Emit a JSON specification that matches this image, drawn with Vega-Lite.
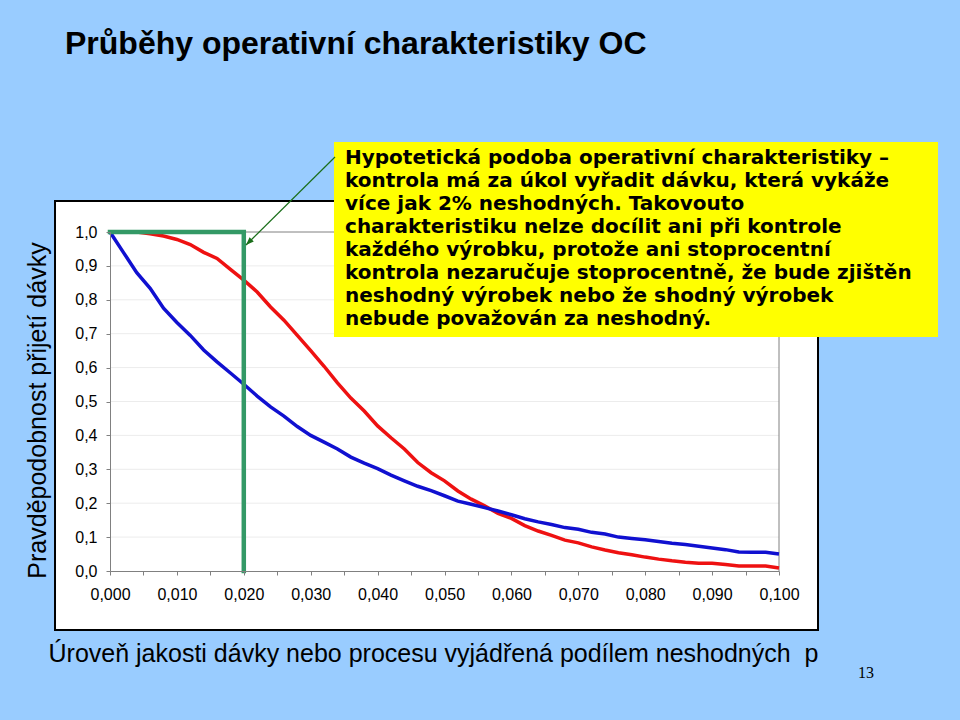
{
  "$schema": "https://vega.github.io/schema/vega-lite/v6.json",
  "width": 669,
  "height": 339,
  "autosize": {"type": "none"},
  "padding": {"left": 110, "top": 232, "right": 181, "bottom": 149},
  "background": "#99CCFF",
  "title": {"text": "Průběhy operativní charakteristiky OC", "anchor": "start", "frame": "group", "font": "Liberation Sans", "fontSize": 32, "fontWeight": "bold", "color": "#000000", "dx": -45, "offset": 0, "baseline": "alphabetic", "dy": -56},
  "config": {
    "view": {"stroke": null},
    "axis": {"zindex": 2},
    "axisX": {
      "values": [0, 0.002, 0.004, 0.006, 0.008, 0.01, 0.012, 0.014, 0.016, 0.018, 0.02, 0.022, 0.024, 0.026, 0.028, 0.03, 0.032, 0.034, 0.036, 0.038, 0.04, 0.042, 0.044, 0.046, 0.048, 0.05, 0.052, 0.054, 0.056, 0.058, 0.06, 0.062, 0.064, 0.066, 0.068, 0.07, 0.072, 0.074, 0.076, 0.078, 0.08, 0.082, 0.084, 0.086, 0.088, 0.09, 0.092, 0.094, 0.096, 0.098, 0.1],
      "labelExpr": "abs(datum.value*100 - round(datum.value*100)) < 0.001 ? replace(format(datum.value, '.3f'), '.', ',') : ''",
      "labelOverlap": false, "labelFlush": false, "grid": false,
      "domainColor": "#808080", "tickColor": "#808080", "tickSize": 4, "labelPadding": 11,
      "labelFont": "Liberation Sans", "labelFontSize": 16, "labelColor": "#000000",
      "titleFont": "Liberation Sans", "titleFontSize": 25, "titleFontWeight": "normal", "titleColor": "#000000",
      "titleX": -62, "titleY": 90, "titleAlign": "left", "titleAnchor": "start", "titleBaseline": "alphabetic"
    },
    "axisY": {
      "values": [0, 0.1, 0.2, 0.3, 0.4, 0.5, 0.6, 0.7, 0.8, 0.9, 1.0],
      "labelExpr": "replace(format(datum.value, '.1f'), '.', ',')",
      "labelOverlap": false, "labelFlush": false, "grid": false,
      "domainColor": "#808080", "tickColor": "#808080", "tickSize": 4, "labelPadding": 9,
      "labelFont": "Liberation Sans", "labelFontSize": 16, "labelColor": "#000000",
      "titleFont": "Liberation Sans", "titleFontSize": 25, "titleFontWeight": "normal", "titleColor": "#000000",
      "titleX": -73, "titleY": 178, "titleAngle": 270, "titleAlign": "center", "titleBaseline": "middle"
    }
  },
  "datasets": {
    "oc": [
      {"p": 0.000, "blue": 1.000, "red": 1.000},
      {"p": 0.002, "blue": 0.940, "red": 1.000},
      {"p": 0.004, "blue": 0.880, "red": 1.000},
      {"p": 0.006, "blue": 0.834, "red": 0.995},
      {"p": 0.008, "blue": 0.775, "red": 0.988},
      {"p": 0.010, "blue": 0.733, "red": 0.978},
      {"p": 0.012, "blue": 0.695, "red": 0.963},
      {"p": 0.014, "blue": 0.652, "red": 0.940},
      {"p": 0.016, "blue": 0.617, "red": 0.922},
      {"p": 0.018, "blue": 0.584, "red": 0.890},
      {"p": 0.020, "blue": 0.551, "red": 0.858},
      {"p": 0.022, "blue": 0.516, "red": 0.823},
      {"p": 0.024, "blue": 0.484, "red": 0.779},
      {"p": 0.026, "blue": 0.457, "red": 0.740},
      {"p": 0.028, "blue": 0.426, "red": 0.695},
      {"p": 0.030, "blue": 0.400, "red": 0.650},
      {"p": 0.032, "blue": 0.380, "red": 0.604},
      {"p": 0.034, "blue": 0.360, "red": 0.555},
      {"p": 0.036, "blue": 0.336, "red": 0.510},
      {"p": 0.038, "blue": 0.318, "red": 0.472},
      {"p": 0.040, "blue": 0.302, "red": 0.428},
      {"p": 0.042, "blue": 0.283, "red": 0.393},
      {"p": 0.044, "blue": 0.266, "red": 0.360},
      {"p": 0.046, "blue": 0.250, "red": 0.320},
      {"p": 0.048, "blue": 0.237, "red": 0.290},
      {"p": 0.050, "blue": 0.222, "red": 0.266},
      {"p": 0.052, "blue": 0.206, "red": 0.236},
      {"p": 0.054, "blue": 0.197, "red": 0.212},
      {"p": 0.056, "blue": 0.187, "red": 0.192},
      {"p": 0.058, "blue": 0.177, "red": 0.170},
      {"p": 0.060, "blue": 0.166, "red": 0.155},
      {"p": 0.062, "blue": 0.154, "red": 0.134},
      {"p": 0.064, "blue": 0.145, "red": 0.118},
      {"p": 0.066, "blue": 0.137, "red": 0.105},
      {"p": 0.068, "blue": 0.128, "red": 0.091},
      {"p": 0.070, "blue": 0.123, "red": 0.083},
      {"p": 0.072, "blue": 0.114, "red": 0.071},
      {"p": 0.074, "blue": 0.109, "red": 0.062},
      {"p": 0.076, "blue": 0.100, "red": 0.054},
      {"p": 0.078, "blue": 0.096, "red": 0.048},
      {"p": 0.080, "blue": 0.092, "red": 0.041},
      {"p": 0.082, "blue": 0.087, "red": 0.035},
      {"p": 0.084, "blue": 0.082, "red": 0.030},
      {"p": 0.086, "blue": 0.078, "red": 0.026},
      {"p": 0.088, "blue": 0.073, "red": 0.023},
      {"p": 0.090, "blue": 0.068, "red": 0.023},
      {"p": 0.092, "blue": 0.063, "red": 0.019},
      {"p": 0.094, "blue": 0.056, "red": 0.015},
      {"p": 0.096, "blue": 0.055, "red": 0.015},
      {"p": 0.098, "blue": 0.055, "red": 0.015},
      {"p": 0.100, "blue": 0.050, "red": 0.009}
    ],
    "ideal": [
      {"i": 1, "p": 0.000, "v": 1},
      {"i": 2, "p": 0.020, "v": 1},
      {"i": 3, "p": 0.020, "v": 0}
    ],
    "grid": [
      {"g": 0.1}, {"g": 0.2}, {"g": 0.3}, {"g": 0.4}, {"g": 0.5},
      {"g": 0.6}, {"g": 0.7}, {"g": 0.8}, {"g": 0.9}
    ]
  },
  "layer": [
    {
      "data": {"values": [{}]},
      "mark": {"type": "rect", "fill": "#FFFFFF", "stroke": "#000000", "strokeWidth": 2},
      "encoding": {
        "x": {"datum": -0.00822, "type": "quantitative", "scale": {"domain": [0, 0.1], "nice": false, "zero": false},
          "axis": {"title": "Úroveň jakosti dávky nebo procesu vyjádřená podílem neshodných \u00a0p", "zindex": 2}},
        "x2": {"datum": 0.10583},
        "y": {"datum": 1.0914, "type": "quantitative", "scale": {"domain": [0, 1], "nice": false, "zero": false},
          "axis": {"title": "Pravděpodobnost přijetí dávky", "zindex": 2}},
        "y2": {"datum": -0.174}
      }
    },
    {
      "data": {"name": "grid"},
      "mark": {"type": "rule", "color": "#ececec", "strokeWidth": 1},
      "encoding": {
        "y": {"field": "g", "type": "quantitative", "scale": {"domain": [0, 1], "nice": false, "zero": false}},
        "x": {"datum": 0, "type": "quantitative", "scale": {"domain": [0, 0.1], "nice": false, "zero": false}},
        "x2": {"datum": 0.1}
      }
    },
    {
      "data": {"values": [{}]},
      "mark": {"type": "rule", "color": "#808080", "strokeWidth": 1},
      "encoding": {
        "x": {"datum": 0.1, "type": "quantitative", "scale": {"domain": [0, 0.1], "nice": false, "zero": false}},
        "y": {"datum": 0, "type": "quantitative", "scale": {"domain": [0, 1], "nice": false, "zero": false}},
        "y2": {"datum": 1}
      }
    },
    {
      "data": {"values": [{}]},
      "mark": {"type": "rule", "color": "#808080", "strokeWidth": 1},
      "encoding": {
        "x": {"datum": 0, "type": "quantitative", "scale": {"domain": [0, 0.1], "nice": false, "zero": false}},
        "x2": {"datum": 0.1},
        "y": {"datum": 1, "type": "quantitative", "scale": {"domain": [0, 1], "nice": false, "zero": false}}
      }
    },
    {
      "data": {"name": "oc"},
      "mark": {"type": "line", "color": "#EE1111", "strokeWidth": 3.5},
      "encoding": {
        "x": {"field": "p", "type": "quantitative", "scale": {"domain": [0, 0.1], "nice": false, "zero": false}},
        "y": {"field": "red", "type": "quantitative", "scale": {"domain": [0, 1], "nice": false, "zero": false}}
      }
    },
    {
      "data": {"name": "oc"},
      "mark": {"type": "line", "color": "#1010D0", "strokeWidth": 3.5},
      "encoding": {
        "x": {"field": "p", "type": "quantitative", "scale": {"domain": [0, 0.1], "nice": false, "zero": false}},
        "y": {"field": "blue", "type": "quantitative", "scale": {"domain": [0, 1], "nice": false, "zero": false}}
      }
    },
    {
      "data": {"name": "ideal"},
      "mark": {"type": "line", "color": "#339966", "strokeWidth": 4.5, "strokeCap": "square"},
      "encoding": {
        "x": {"field": "p", "type": "quantitative", "scale": {"domain": [0, 0.1], "nice": false, "zero": false}},
        "y": {"field": "v", "type": "quantitative", "scale": {"domain": [0, 1], "nice": false, "zero": false}},
        "order": {"field": "i", "type": "quantitative"}
      }
    },
    {
      "data": {"values": [{}]},
      "mark": {"type": "rect", "fill": "#FFFF00"},
      "encoding": {
        "x": {"datum": 0.03348, "type": "quantitative", "scale": {"domain": [0, 0.1], "nice": false, "zero": false}},
        "x2": {"datum": 0.12377},
        "y": {"datum": 1.2655, "type": "quantitative", "scale": {"domain": [0, 1], "nice": false, "zero": false}},
        "y2": {"datum": 0.6903}
      }
    },
    {
      "data": {"values": [{}]},
      "mark": {"type": "text", "text": [
        "Hypotetická podoba operativní charakteristiky –",
        "kontrola má za úkol vyřadit dávku, která vykáže",
        "více jak 2% neshodných. Takovouto",
        "charakteristiku nelze docílit ani při kontrole",
        "každého výrobku, protože ani stoprocentní",
        "kontrola nezaručuje stoprocentně, že bude zjištěn",
        "neshodný výrobek nebo že shodný výrobek",
        "nebude považován za neshodný."
      ], "lineHeight": 23, "align": "left", "baseline": "alphabetic", "font": "DejaVu Sans", "fontSize": 20, "fontWeight": "bold", "color": "#000000"},
      "encoding": {
        "x": {"datum": 0.03513, "type": "quantitative", "scale": {"domain": [0, 0.1], "nice": false, "zero": false}},
        "y": {"datum": 1.2006, "type": "quantitative", "scale": {"domain": [0, 1], "nice": false, "zero": false}}
      }
    },
    {
      "data": {"values": [{}]},
      "mark": {"type": "rule", "color": "#1A6E1A", "strokeWidth": 1.2},
      "encoding": {
        "x": {"datum": 0.03363, "type": "quantitative", "scale": {"domain": [0, 0.1], "nice": false, "zero": false}},
        "x2": {"datum": 0.02033},
        "y": {"datum": 1.2212, "type": "quantitative", "scale": {"domain": [0, 1], "nice": false, "zero": false}},
        "y2": {"datum": 0.9617}
      }
    },
    {
      "data": {"values": [{}]},
      "mark": {"type": "point", "shape": "M0,0L-0.6,1.6L0.6,1.6Z", "filled": true, "opacity": 1, "color": "#1A6E1A", "size": 100, "angle": 225},
      "encoding": {
        "x": {"datum": 0.02033, "type": "quantitative", "scale": {"domain": [0, 0.1], "nice": false, "zero": false}},
        "y": {"datum": 0.9617, "type": "quantitative", "scale": {"domain": [0, 1], "nice": false, "zero": false}}
      }
    },
    {
      "data": {"values": [{}]},
      "mark": {"type": "text", "text": "13", "font": "Liberation Serif", "fontSize": 16, "align": "center", "baseline": "alphabetic", "color": "#000000"},
      "encoding": {
        "x": {"datum": 0.1130, "type": "quantitative", "scale": {"domain": [0, 0.1], "nice": false, "zero": false}},
        "y": {"datum": -0.3156, "type": "quantitative", "scale": {"domain": [0, 1], "nice": false, "zero": false}}
      }
    }
  ]
}
